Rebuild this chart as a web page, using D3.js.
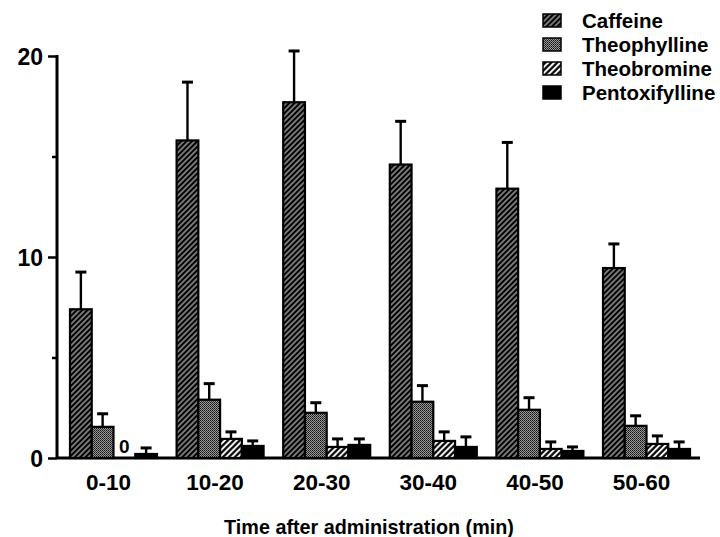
<!DOCTYPE html>
<html>
<head>
<meta charset="utf-8">
<script src="https://cdn.jsdelivr.net/npm/d3@7"></script>
<style>
  body { margin: 0; background: #fff; }
  text { font-family: "Liberation Sans", Arial, Helvetica, sans-serif; font-weight: bold; fill: #000; }
</style>
</head>
<body>
<script>
const groups = ['0-10', '10-20', '20-30', '30-40', '40-50', '50-60']
const series = ['Caffeine', 'Theophylline', 'Theobromine', 'Pentoxifylline']

// means and error (upper SD) per series
const caffeine = [7.4, 15.8, 17.7, 14.6, 13.4, 9.45]
const caffeineErr = [1.85, 2.9, 2.55, 2.15, 2.3, 1.2]
const theophylline = [1.55, 2.9, 2.25, 2.8, 2.4, 1.6]
const theophyllineErr = [0.65, 0.8, 0.5, 0.8, 0.6, 0.5]
const theobromine = [0, 0.95, 0.55, 0.85, 0.45, 0.7]
const theobromineErr = [0, 0.35, 0.4, 0.45, 0.35, 0.4]
const pentoxifylline = [0.2, 0.6, 0.65, 0.55, 0.35, 0.45]
const pentoxifyllineErr = [0.3, 0.25, 0.3, 0.5, 0.2, 0.35]

const yTicks = [0, 10, 20]
const yMinor = [5, 15]
const xTitle = 'Time after administration (min)'

const means = [caffeine, theophylline, theobromine, pentoxifylline]
const errs = [caffeineErr, theophyllineErr, theobromineErr, pentoxifyllineErr]
const fills = ['url(#caf)', 'url(#theo)', 'url(#tbr)', '#000']

const width = 720
const height = 537

const svg = d3.select('body').append('svg')
  .attr('width', width)
  .attr('height', height)

// patterns
const defs = svg.append('defs')
const caf = defs.append('pattern').attr('id', 'caf')
  .attr('patternUnits', 'userSpaceOnUse')
  .attr('width', 3.8).attr('height', 3.8)
  .attr('patternTransform', 'rotate(45)')
caf.append('rect').attr('width', 3.8).attr('height', 3.8).attr('fill', '#000')
caf.append('line').attr('x1', 1.9).attr('x2', 1.9).attr('y1', 0).attr('y2', 3.8)
  .attr('stroke', '#fff').attr('stroke-width', 0.9)

const tbr = defs.append('pattern').attr('id', 'tbr')
  .attr('patternUnits', 'userSpaceOnUse')
  .attr('width', 4.2).attr('height', 4.2)
  .attr('patternTransform', 'rotate(45)')
tbr.append('rect').attr('width', 4.2).attr('height', 4.2).attr('fill', '#fff')
tbr.append('line').attr('x1', 2.1).attr('x2', 2.1).attr('y1', 0).attr('y2', 4.2)
  .attr('stroke', '#000').attr('stroke-width', 2.2)

const theo = defs.append('pattern').attr('id', 'theo')
  .attr('patternUnits', 'userSpaceOnUse')
  .attr('width', 2).attr('height', 2)
theo.append('rect').attr('width', 2).attr('height', 2).attr('fill', '#9a9a9a')
theo.append('rect').attr('width', 1).attr('height', 1).attr('fill', '#111')
theo.append('rect').attr('x', 1).attr('y', 1).attr('width', 1).attr('height', 1).attr('fill', '#333')

// scales
const y = d3.scaleLinear().domain([0, 20]).range([458, 56])
const x0 = d3.scaleBand().domain(groups).range([70, 690]).paddingInner(0.184)
const x1 = d3.scaleBand().domain(series).range([0, x0.bandwidth()])

// y axis
const yAxis = svg.append('g').attr('transform', 'translate(57,0)')
yAxis.call(d3.axisLeft(y).tickValues(yTicks).tickSize(9).tickPadding(5))
yAxis.append('g').call(d3.axisLeft(y).tickValues(yMinor).tickSize(5).tickFormat(''))
yAxis.selectAll('.domain').remove()
yAxis.selectAll('line').attr('stroke', '#000').attr('stroke-width', 2.5)
yAxis.selectAll('text').style('font-size', '23px')
  .attr('font-family', null).attr('dy', '0.36em')
yAxis.append('line').attr('x1', 0).attr('x2', 0)
  .attr('y1', y(20) - 1).attr('y2', y(0) + 1)
  .attr('stroke', '#000').attr('stroke-width', 3)

// x axis line
svg.append('line')
  .attr('x1', 57).attr('x2', 700)
  .attr('y1', y(0)).attr('y2', y(0))
  .attr('stroke', '#000').attr('stroke-width', 3)

// bars
const rows = []
groups.forEach((g, gi) => {
  series.forEach((s, si) => {
    rows.push({ g, s, si, v: means[si][gi], e: errs[si][gi] })
  })
})

const bars = svg.append('g')
bars.selectAll('rect')
  .data(rows.filter(d => d.v > 0))
  .join('rect')
  .attr('x', d => x0(d.g) + x1(d.s))
  .attr('width', x1.bandwidth())
  .attr('y', d => y(d.v))
  .attr('height', d => y(0) - y(d.v))
  .attr('fill', d => fills[d.si])
  .attr('stroke', '#000')
  .attr('stroke-width', 2.2)

// error bars
const eb = svg.append('g').attr('stroke', '#000')
const withErr = rows.filter(d => d.e > 0)
eb.selectAll('line.stem')
  .data(withErr)
  .join('line')
  .attr('class', 'stem')
  .attr('x1', d => x0(d.g) + x1(d.s) + x1.bandwidth() / 2)
  .attr('x2', d => x0(d.g) + x1(d.s) + x1.bandwidth() / 2)
  .attr('y1', d => y(d.v))
  .attr('y2', d => y(d.v + d.e))
  .attr('stroke-width', 2.4)
eb.selectAll('line.cap')
  .data(withErr)
  .join('line')
  .attr('class', 'cap')
  .attr('x1', d => x0(d.g) + x1(d.s) + x1.bandwidth() / 2 - 5.5)
  .attr('x2', d => x0(d.g) + x1(d.s) + x1.bandwidth() / 2 + 5.5)
  .attr('y1', d => y(d.v + d.e))
  .attr('y2', d => y(d.v + d.e))
  .attr('stroke-width', 3)

// zero label
svg.selectAll('text.zero')
  .data(rows.filter(d => d.v === 0))
  .join('text')
  .attr('class', 'zero')
  .attr('x', d => x0(d.g) + x1(d.s) + x1.bandwidth() / 2)
  .attr('y', y(0) - 5)
  .attr('text-anchor', 'middle')
  .style('font-size', '19px')
  .text('0')

// x labels
svg.selectAll('text.xl')
  .data(groups)
  .join('text')
  .attr('class', 'xl')
  .attr('x', d => x0(d) + x0.bandwidth() / 2 - 5)
  .attr('y', 490)
  .attr('text-anchor', 'middle')
  .style('font-size', '22.5px')
  .text(d => d)

svg.append('text')
  .attr('x', 369)
  .attr('y', 534)
  .attr('text-anchor', 'middle')
  .style('font-size', '19.8px')
  .text(xTitle)

// legend
const legend = svg.append('g').attr('transform', 'translate(543,14)')
const li = legend.selectAll('g')
  .data(series)
  .join('g')
  .attr('transform', (d, i) => `translate(0,${i * 24})`)
li.append('rect')
  .attr('width', 18).attr('height', 13)
  .attr('fill', (d, i) => fills[i])
  .attr('stroke', '#000').attr('stroke-width', 1.5)
li.append('text')
  .attr('x', 39).attr('y', 6.5).attr('dy', '0.36em')
  .style('font-size', '20.5px')
  .text(d => d)
</script>
</body>
</html>
